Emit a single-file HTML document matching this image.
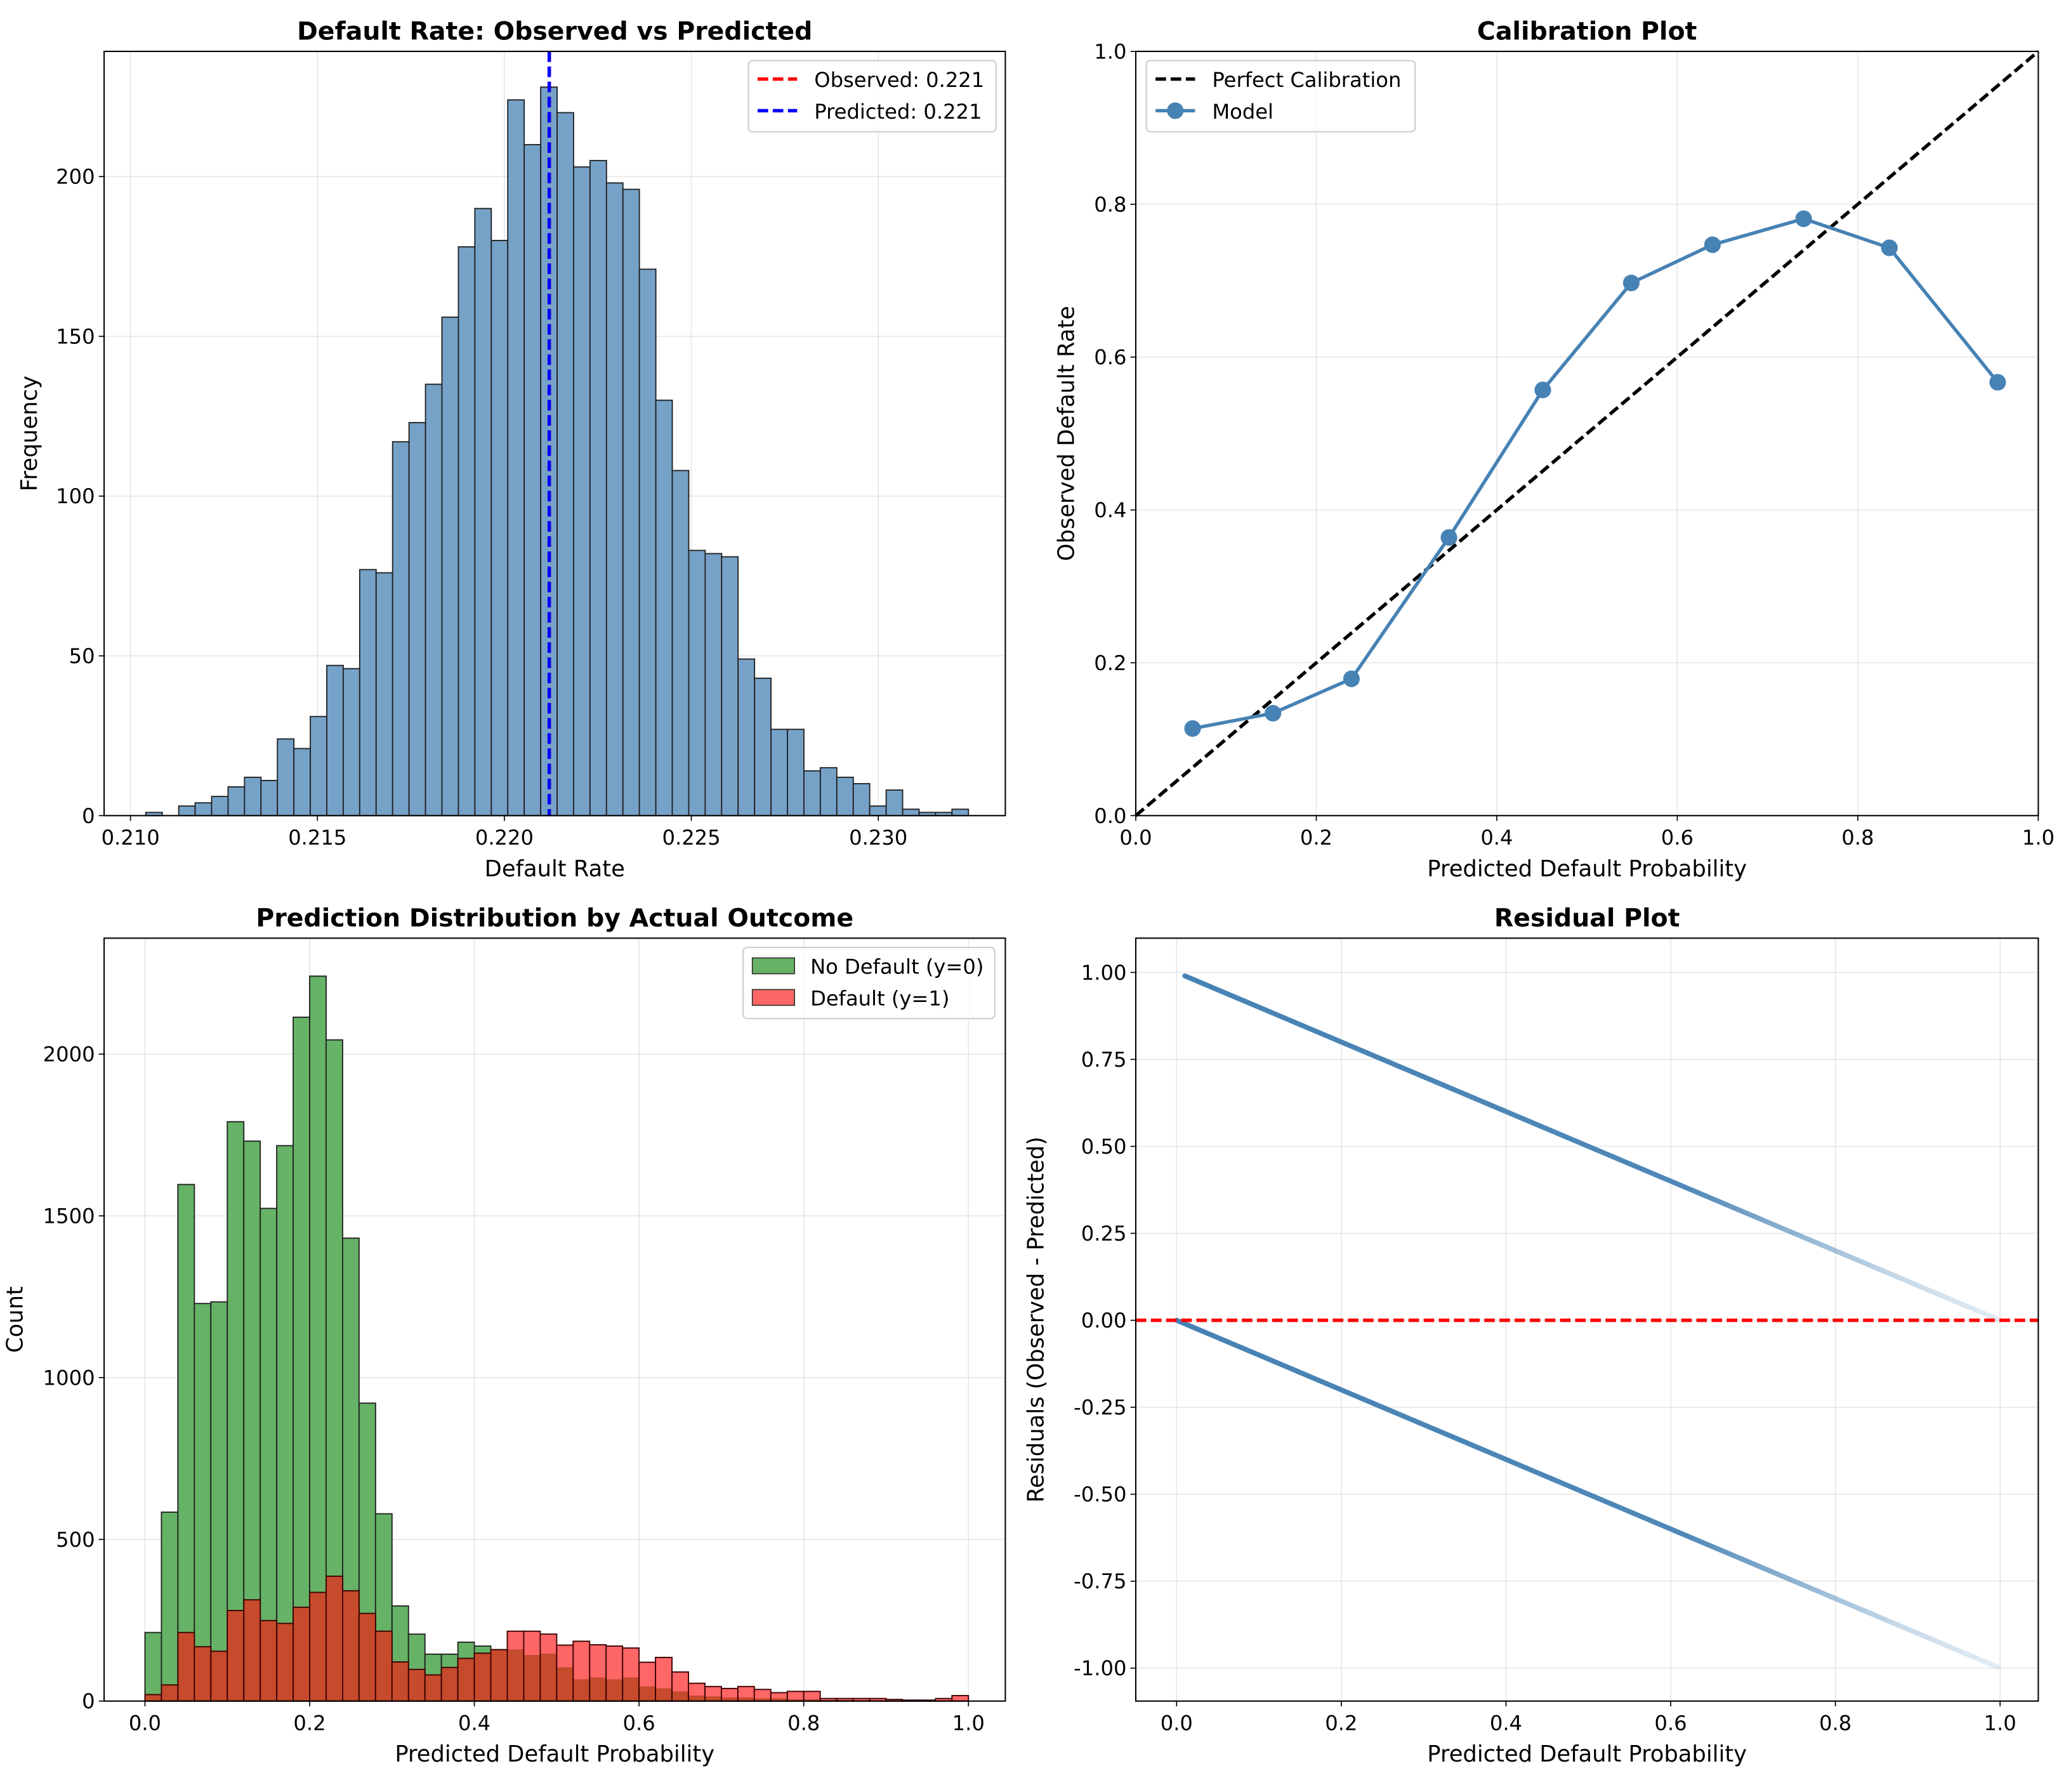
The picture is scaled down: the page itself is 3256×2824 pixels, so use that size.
<!DOCTYPE html>
<html><head><meta charset="utf-8"><style>
html,body{margin:0;padding:0;background:#fff}
svg{display:block}
text{font-family:"DejaVu Sans","Liberation Sans",sans-serif;fill:#000}
</style></head><body>
<svg id="fig" width="3256" height="2824" viewBox="0 0 1568 1360" xmlns="http://www.w3.org/2000/svg">
<rect width="1568" height="1360" fill="#fff"/>
</svg>
<script>
// ---- Panel 1 data: default rate histogram ----
const p1BinStart = 0.21041;
const p1BinWidth = 0.00044;
const p1Counts = [1,0,3,4,6,9,12,11,24,21,31,47,46,77,76,117,123,135,156,178,190,180,224,210,228,220,203,205,198,196,171,130,108,83,82,81,49,43,27,27,14,15,12,10,3,8,2,1,1,2];
const p1XTicks = [0.210,0.215,0.220,0.225,0.230];
const p1YTicks = [0,50,100,150,200];
const p1Observed = 0.2212;
const p1Predicted = 0.2212;
// ---- Panel 2 data: prediction distribution ----
const p2BinStart = 0;
const p2BinWidth = 0.02;
const p2NoDefault = [212,584,1597,1229,1234,1791,1731,1523,1717,2114,2241,2044,1431,921,579,294,207,145,145,182,170,159,159,142,146,104,67,73,67,73,45,39,30,17,14,11,11,8,8,5,5,3,3,2,2,1,1,1,1,1];
const p2Default = [20,50,212,168,154,280,313,249,240,290,336,386,341,271,216,121,98,81,104,132,148,159,216,216,207,173,185,174,170,164,120,135,90,55,45,39,45,36,26,30,30,8,8,8,8,5,3,3,8,17];
const p2XTicks = [0,0.2,0.4,0.6,0.8,1.0];
const p2YTicks = [0,500,1000,1500,2000];
// ---- Panel 3 data: calibration ----
const p3Pred = [0.063,0.152,0.239,0.347,0.451,0.549,0.639,0.740,0.835,0.955];
const p3Obs = [0.114,0.134,0.179,0.364,0.557,0.697,0.747,0.781,0.743,0.567];
const p3Ticks = [0,0.2,0.4,0.6,0.8,1.0];
// ---- Panel 4 data: residual bands ----
const p4UpperP = [0.01,1.0];
const p4UpperR = [0.99,0.0];
const p4LowerP = [0.0,0.997];
const p4LowerR = [0.0,-0.997];
const p4XTicks = [0,0.2,0.4,0.6,0.8,1.0];
const p4YTicks = [1.0,0.75,0.5,0.25,0,-0.25,-0.5,-0.75,-1.0];

const NS='http://www.w3.org/2000/svg';
const svg=document.getElementById('fig');
const TICK_FS=15.5, LABEL_FS=17, TITLE_FS=19, LEG_FS=15.5;
function el(tag,attrs,parent){const e=document.createElementNS(NS,tag);for(const k in attrs)e.setAttribute(k,attrs[k]);(parent||svg).appendChild(e);return e;}
function txt(s,x,y,attrs,parent){const t=el('text',Object.assign({x:x,y:y},attrs),parent);t.textContent=s;return t;}
function lin(d0,d1,r0,r1){return v=>r0+(v-d0)/(d1-d0)*(r1-r0);}

function frame(g,L,T,R,B){
  const f=el('rect',{x:L,y:T,width:R-L,height:B-T,fill:'none',stroke:'#000','stroke-width':1},g);
  
  
}
function xTicks(g,ticks,sx,B,T,fmt){
  ticks.forEach(v=>{const x=sx(v);
    const gl=el('line',{x1:x,x2:x,y1:T,y2:B,stroke:'#b0b0b0','stroke-opacity':0.3,'stroke-width':0.8},g);
    
    el('line',{x1:x,x2:x,y1:B,y2:B+4,stroke:'#000','stroke-width':0.8},g);
    const t=txt(fmt(v),x,B+22,{'font-size':TICK_FS,'text-anchor':'middle'},g);
    
  });
}
function yTicks(g,ticks,sy,L,R,fmt){
  ticks.forEach(v=>{const y=sy(v);
    const gl=el('line',{x1:L,x2:R,y1:y,y2:y,stroke:'#b0b0b0','stroke-opacity':0.3,'stroke-width':0.8},g);
    
    el('line',{x1:L-4,x2:L,y1:y,y2:y,stroke:'#000','stroke-width':0.8},g);
    const t=txt(fmt(v),L-7,y+5.5,{'font-size':TICK_FS,'text-anchor':'end'},g);
    
  });
}
function titles(g,title,xl,yl,L,T,R,B,ylx){
  const cx=(L+R)/2;
  const t=txt(title,cx,T-9,{'font-size':TITLE_FS,'font-weight':'bold','text-anchor':'middle'},g);
  
  const x=txt(xl,cx,B+46,{'font-size':LABEL_FS,'text-anchor':'middle'},g);
  
  const cy=(T+B)/2;
  const y=txt(yl,ylx,cy,{'font-size':LABEL_FS,'text-anchor':'middle',transform:`rotate(-90 ${ylx} ${cy})`},g);
  
}
function legendBox(g,x,y,w,h){
  const b=el('rect',{x:x,y:y,width:w,height:h,rx:3,fill:'#fff','fill-opacity':0.8,stroke:'#ccc','stroke-width':1},g);
  
}

// ===== Panel 1 =====
(function(){
  const L=79,R=763,T=39,B=619;
  const g=el('g',{});
  const sx=lin(0.210,0.230,99,666.6), sy=lin(0,200,B,134);
  xTicks(g,p1XTicks,sx,B,T,v=>v.toFixed(3));
  yTicks(g,p1YTicks,sy,L,R,v=>String(v));
  p1Counts.forEach((c,i)=>{
    const x0=sx(p1BinStart+i*p1BinWidth),x1=sx(p1BinStart+(i+1)*p1BinWidth);
    const r=el('rect',{x:x0,y:sy(c),width:x1-x0,height:B-sy(c),fill:'#76a2c8',stroke:'#222','stroke-width':0.9},g);
    
  });
  const ob=el('line',{x1:sx(p1Observed),x2:sx(p1Observed),y1:T,y2:B,stroke:'#ff0000','stroke-width':2.6,'stroke-dasharray':'8,3.5'},g);
  
  const pr=el('line',{x1:sx(p1Predicted),x2:sx(p1Predicted),y1:T,y2:B,stroke:'#0000ff','stroke-width':2.6,'stroke-dasharray':'8,3.5'},g);
  
  frame(g,L,T,R,B);
  titles(g,'Default Rate: Observed vs Predicted','Default Rate','Frequency',L,T,R,B,28);
  legendBox(g,568,46,188,54);
  el('line',{x1:575,x2:605,y1:60,y2:60,stroke:'#ff0000','stroke-width':2.6,'stroke-dasharray':'8,3.5'},g);
  const l1=txt('Observed: 0.221',618,66,{'font-size':LEG_FS},g);
  el('line',{x1:575,x2:605,y1:84,y2:84,stroke:'#0000ff','stroke-width':2.6,'stroke-dasharray':'8,3.5'},g);
  const l2=txt('Predicted: 0.221',618,90,{'font-size':LEG_FS},g);
})();

// ===== Panel 2 =====
(function(){
  const L=79,R=763,T=712,B=1291;
  const g=el('g',{});
  const sx=lin(0,1,110,735), sy=lin(0,2000,B,800);
  xTicks(g,p2XTicks,sx,B,T,v=>v.toFixed(1));
  yTicks(g,p2YTicks,sy,L,R,v=>String(v));
  p2NoDefault.forEach((c,i)=>{
    const x0=sx(p2BinStart+i*p2BinWidth),x1=sx(p2BinStart+(i+1)*p2BinWidth);
    const r=el('rect',{x:x0,y:sy(c),width:x1-x0,height:B-sy(c),fill:'#66b266',stroke:'#222','stroke-width':0.9},g);
    
  });
  p2Default.forEach((c,i)=>{
    const x0=sx(p2BinStart+i*p2BinWidth),x1=sx(p2BinStart+(i+1)*p2BinWidth);
    const gv=p2NoDefault[i], ov=Math.min(gv,c);
    if(c>gv){
      const e=el('rect',{x:x0,y:sy(c),width:x1-x0,height:sy(gv)-sy(c),fill:'#ff6666'},g);
      
    }
    const o=el('rect',{x:x0,y:sy(ov),width:x1-x0,height:B-sy(ov),fill:'#c64a2c'},g);
    
    el('rect',{x:x0,y:sy(c),width:x1-x0,height:B-sy(c),fill:'none',stroke:'#3a0000','stroke-width':0.9},g);
  });
  frame(g,L,T,R,B);
  titles(g,'Prediction Distribution by Actual Outcome','Predicted Default Probability','Count',L,T,R,B,17);
  legendBox(g,564,719,191,54);
  el('rect',{x:571,y:727,width:32,height:12,fill:'#66b266',stroke:'#333','stroke-width':0.8},g);
  const l1=txt('No Default (y=0)',615,739,{'font-size':LEG_FS},g);
  el('rect',{x:571,y:751,width:32,height:12,fill:'#ff6666',stroke:'#333','stroke-width':0.8},g);
  const l2=txt('Default (y=1)',615,763,{'font-size':LEG_FS},g);
})();

// ===== Panel 3 =====
(function(){
  const L=862,R=1547,T=39,B=619;
  const g=el('g',{});
  const sx=lin(0,1,L,R), sy=lin(0,1,B,T);
  xTicks(g,p3Ticks,sx,B,T,v=>v.toFixed(1));
  yTicks(g,p3Ticks,sy,L,R,v=>v.toFixed(1));
  const pc=el('line',{x1:sx(0),y1:sy(0),x2:sx(1),y2:sy(1),stroke:'#000','stroke-width':2.6,'stroke-dasharray':'8,3.5'},g);
  
  const pts=p3Pred.map((p,i)=>sx(p)+','+sy(p3Obs[i])).join(' ');
  const ml=el('polyline',{points:pts,fill:'none',stroke:'#4682b4','stroke-width':2.6},g);
  
  p3Pred.forEach((p,i)=>{
    const c=el('circle',{cx:sx(p),cy:sy(p3Obs[i]),r:6.3,fill:'#4682b4'},g);
    
  });
  frame(g,L,T,R,B);
  titles(g,'Calibration Plot','Predicted Default Probability','Observed Default Rate',L,T,R,B,815);
  legendBox(g,870,46,204,54);
  el('line',{x1:877,x2:907,y1:60,y2:60,stroke:'#000','stroke-width':2.6,'stroke-dasharray':'8,3.5'},g);
  const l1=txt('Perfect Calibration',920,66,{'font-size':LEG_FS},g);
  el('line',{x1:877,x2:907,y1:84,y2:84,stroke:'#4682b4','stroke-width':2.6},g);
  el('circle',{cx:892,cy:84,r:6.3,fill:'#4682b4'},g);
  const l2=txt('Model',920,90,{'font-size':LEG_FS},g);
})();

// ===== Panel 4 =====
(function(){
  const L=862,R=1547,T=712,B=1291;
  const g=el('g',{});
  const sx=lin(0,1,893,1518), sy=lin(-1,1,1266,738);
  xTicks(g,p4XTicks,sx,B,T,v=>v.toFixed(1));
  yTicks(g,p4YTicks,sy,L,R,v=>v.toFixed(2));
  const defs=el('defs',{},g);
  const gr=el('linearGradient',{id:'fade',gradientUnits:'userSpaceOnUse',x1:sx(0),y1:0,x2:sx(1),y2:0},defs);
  [[0,1],[0.62,0.95],[0.75,0.6],[0.88,0.3],[1,0.15]].forEach(s=>el('stop',{offset:s[0],'stop-color':'#4682b4','stop-opacity':s[1]},gr));
  const up=el('line',{x1:sx(p4UpperP[0]),y1:sy(p4UpperR[0]),x2:sx(p4UpperP[1]),y2:sy(p4UpperR[1]),stroke:'url(#fade)','stroke-width':3.8,'stroke-linecap':'round'},g);
  
  const lo=el('line',{x1:sx(p4LowerP[0]),y1:sy(p4LowerR[0]),x2:sx(p4LowerP[1]),y2:sy(p4LowerR[1]),stroke:'url(#fade)','stroke-width':3.8,'stroke-linecap':'round'},g);
  
  const z=el('line',{x1:L,x2:R,y1:sy(0),y2:sy(0),stroke:'#ff0000','stroke-width':2.6,'stroke-dasharray':'8,3.5'},g);
  
  frame(g,L,T,R,B);
  titles(g,'Residual Plot','Predicted Default Probability','Residuals (Observed - Predicted)',L,T,R,B,792);
})();
</script>
</body></html>
